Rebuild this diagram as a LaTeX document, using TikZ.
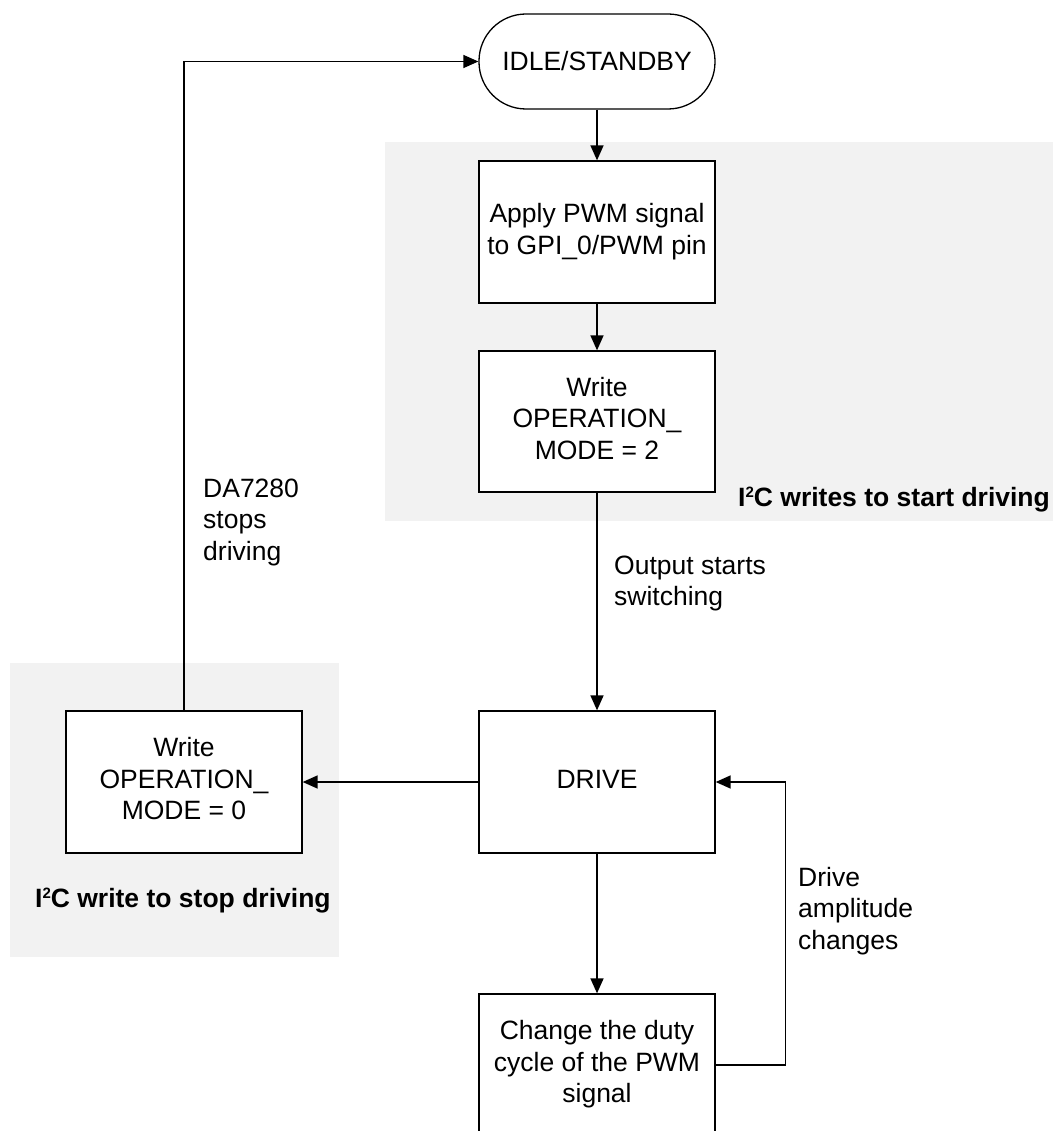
\documentclass[tikz,border=0pt]{standalone}
\usepackage{fontspec}
\setmainfont{Liberation Sans}
\usetikzlibrary{arrows.meta}
\definecolor{zone}{RGB}{242,242,242}
\newcommand\bodyfont{\fontsize{26.5}{31.5}\selectfont}
\newcommand\suptwo{\raisebox{9pt}{\fontsize{15}{15}\selectfont 2}}
\begin{document}
\begin{tikzpicture}[x=1pt,y=-1pt,
  box/.style={draw,line width=1.3pt,fill=white,minimum width=236pt,minimum height=142pt,align=center,inner sep=0pt,font=\bodyfont},
  pill/.style={draw,line width=1.3pt,fill=white,rounded corners=47pt,minimum width=236pt,minimum height=95pt,font=\bodyfont,inner sep=0pt},
  conn/.style={line width=1.5pt,-{Triangle[length=15pt,width=13pt]}},
  lbl/.style={font=\bodyfont,align=left,inner sep=0pt,anchor=north west},
  zonelbl/.style={font=\bodyfont\bfseries,inner sep=0pt,anchor=base west}]
\clip (0,0) rectangle (1053,1131);
\fill[white] (0,0) rectangle (1053,1131);
\fill[zone] (385,142) rectangle (1053,521);
\fill[zone] (10,663) rectangle (339,957);

\node[pill] (idle) at (597,61.5) {IDLE/STANDBY};
\node[box] (apply) at (597,232) {\strut Apply PWM signal\\\strut to GPI\_0/PWM pin};
\node[box,minimum height=141pt] (w2) at (597,421.5) {\strut Write\\\strut OPERATION\_\\\strut MODE = 2};
\node[box] (drive) at (597,782) {\strut DRIVE};
\node[box] (w0) at (184,782) {\strut Write\\\strut OPERATION\_\\\strut MODE = 0};
\node[box] (chg) at (597,1065) {\strut Change the duty\\\strut cycle of the PWM\\\strut signal};

\draw[conn] (idle.south) -- (apply.north);
\draw[conn] (apply.south) -- (w2.north);
\draw[conn] (w2.south) -- (drive.north);
\draw[conn] (drive.west) -- (w0.east);
\draw[conn] (drive.south) -- (chg.north);
\draw[conn] (chg.east) -- ++(70,0) |- (drive.east);
\draw[conn] (w0.north) |- (idle.west);

\node[zonelbl] (zl1) at (738,506) {I\suptwo C writes to start driving};
\node[zonelbl] (zl2) at (35,907) {I\suptwo C write to stop driving};
\node[lbl] (l1) at (203,475) {\strut DA7280\\\strut stops\\\strut driving};
\node[lbl] (l2) at (614,552) {\strut Output starts\\\strut switching};
\node[lbl] (l3) at (798,864) {\strut Drive\\\strut amplitude\\\strut changes};
\end{tikzpicture}
\end{document}
